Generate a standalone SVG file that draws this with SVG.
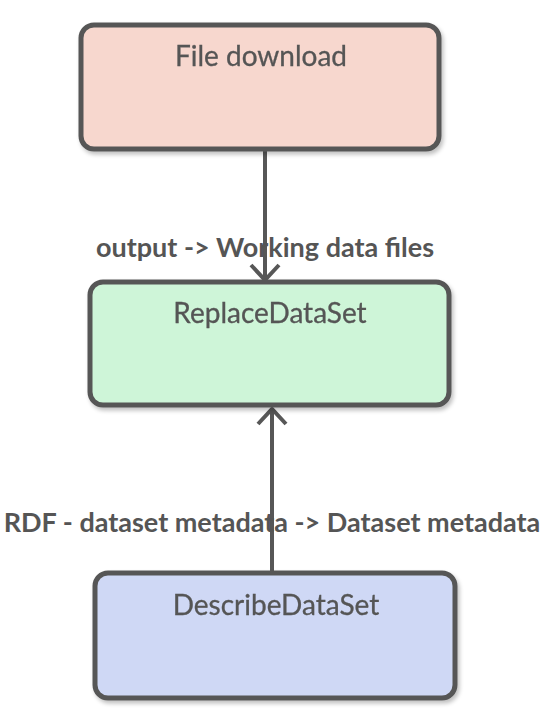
<svg xmlns="http://www.w3.org/2000/svg" width="552" height="726" viewBox="0 0 552 726">
<style>
.box{stroke:#575757;stroke-width:5}
.nt{font-family:Lato,"Open Sans",sans-serif;font-size:28px;fill:#555;text-anchor:middle;stroke:#555;stroke-width:0.3}
.lt{font-family:Lato,"Open Sans",sans-serif;font-size:27px;font-weight:bold;fill:#555;text-anchor:middle}
.ln{stroke:#575757;stroke-width:4;fill:none}
</style>
<defs>
<filter id="sh" x="-10%" y="-10%" width="130%" height="130%">
<feGaussianBlur in="SourceAlpha" stdDeviation="2"/>
<feOffset dx="2" dy="3"/>
<feComponentTransfer><feFuncA type="linear" slope="0.25"/></feComponentTransfer>
<feMerge><feMergeNode/><feMergeNode in="SourceGraphic"/></feMerge>
</filter>
</defs>
<rect width="552" height="726" fill="#fff"/>
<g id="connectors">
<line class="ln" x1="265" y1="150" x2="265" y2="281"/>
<polyline class="ln" points="251,265 265,280 279,265"/>
<line class="ln" x1="272" y1="573" x2="272" y2="409"/>
<polyline class="ln" points="258,424 272,409 286,424"/>
<text class="lt" x="265" y="257">output -&gt; Working data files</text>
<text class="lt" x="272" y="532">RDF - dataset metadata -&gt; Dataset metadata</text>
</g>
<g id="file-download" filter="url(#sh)">
<rect class="box" x="81" y="25" width="358" height="124" rx="13" fill="#F7D7CE"/>
<text class="nt" x="261" y="66">File download</text>
</g>
<g id="replace-dataset" filter="url(#sh)">
<rect class="box" x="90" y="282" width="359" height="123" rx="13" fill="#CEF5D8"/>
<text class="nt" x="270" y="323">ReplaceDataSet</text>
</g>
<g id="describe-dataset" filter="url(#sh)">
<rect class="box" x="95" y="573" width="360" height="125" rx="13" fill="#CFD8F5"/>
<text class="nt" x="276" y="615">DescribeDataSet</text>
</g>
</svg>
